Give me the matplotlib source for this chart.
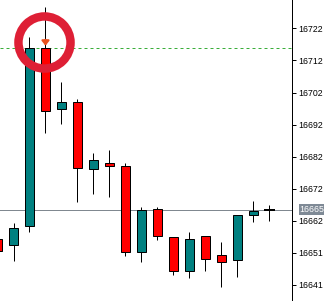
import matplotlib
matplotlib.use("Agg")
import matplotlib.pyplot as plt
import numpy as np

# OHLC data (price units)
opens  = [16655.6, 16653.7, 16659.8, 16716.3, 16696.8, 16699.1, 16677.8, 16679.9, 16678.9,
          16651.5, 16665.2, 16656.3, 16645.5, 16656.6, 16650.6, 16649.2, 16663.3, 16664.8]
highs  = [16656.5, 16660.7, 16719.6, 16729.2, 16705.5, 16700.0, 16683.0, 16683.9, 16679.8,
          16665.9, 16665.9, 16656.3, 16657.9, 16656.6, 16654.8, 16663.2, 16667.7, 16666.5]
lows   = [16651.0, 16648.9, 16658.0, 16689.4, 16692.2, 16667.5, 16669.9, 16668.9, 16650.4,
          16648.5, 16655.4, 16644.4, 16643.5, 16645.5, 16640.6, 16643.6, 16661.2, 16661.5]
closes = [16652.0, 16659.1, 16716.3, 16696.3, 16699.0, 16678.3, 16680.7, 16678.7, 16651.5,
          16664.9, 16656.7, 16645.5, 16655.6, 16649.5, 16648.5, 16663.2, 16664.7, 16664.8]

tick_values = [16722.4, 16712.25, 16702.1, 16691.95, 16681.8, 16671.65, 16661.5, 16651.35, 16641.2]
tick_labels = ["16722", "16712", "16702", "16692", "16682", "16672", "16662", "16651", "16641"]

bid_price = 16664.9
bid_label = "16665"
level_price = 16716.3
arrow_top, arrow_tip = 16718.8, 16716.9
circle_x, circle_y = 2.89, 16718.2

UP = "#008080"
DOWN = "#FF0000"
PX = 0.72  # one pixel in points

fig = plt.figure(figsize=(3.24, 3.01), dpi=100)
ax = fig.add_axes([0, 0, 292/324, 1])

x = np.arange(len(opens))
o = np.array(opens); c = np.array(closes); h = np.array(highs); l = np.array(lows)

ax.vlines(x, l, h, color="black", lw=PX, zorder=2)
cols = [UP if cc > oo else DOWN for oo, cc in zip(o, c)]
body_mask = np.abs(c - o) > 0.05
ax.bar(x[body_mask], (np.abs(c - o))[body_mask], bottom=np.minimum(o, c)[body_mask],
       width=0.6, color=np.array(cols)[body_mask], edgecolor="black", linewidth=PX, zorder=3)
doji = ~body_mask
ax.hlines(o[doji], x[doji] - 0.32, x[doji] + 0.32, color="black", lw=2*PX, zorder=3)

ax.axhline(bid_price, color="#808890", lw=PX, zorder=1)
ax.axhline(level_price, color="#3aae3a", lw=PX, ls=(0, (3, 3)), zorder=1)

ax.annotate("", xy=(3, arrow_tip), xytext=(3, arrow_top),
            arrowprops=dict(arrowstyle="-|>,head_width=0.22,head_length=0.28",
                            color="#E8501E", lw=1.5, shrinkA=0, shrinkB=0), zorder=4)

ax.plot([circle_x], [circle_y], marker="o", ms=37.5, mfc="none", mec="#DE1F35",
        mew=6.1, zorder=5)

ax.set_xlim(0.156, 18.41)
ax.set_ylim(16636.1, 16731.4)

for s in ["top", "left", "bottom"]:
    ax.spines[s].set_visible(False)
ax.spines["right"].set_linewidth(PX)
ax.set_xticks([])
ax.yaxis.tick_right()
ax.set_yticks(tick_values)
ax.set_yticklabels(tick_labels, fontfamily="Liberation Sans", fontsize=6.3)
ax.tick_params(axis="y", direction="out", length=3, width=PX, pad=1.5)

ax.annotate(bid_label, xy=(1.0, bid_price), xycoords=("axes fraction", "data"),
            xytext=(5.5, 0.7), textcoords="offset points", va="center", ha="left",
            fontfamily="Liberation Sans", fontsize=6.3, color="white",
            bbox=dict(boxstyle="square,pad=0.12", fc="#7f8a96", ec="none"),
            annotation_clip=False)

fig.savefig("out.png", dpi=100)
